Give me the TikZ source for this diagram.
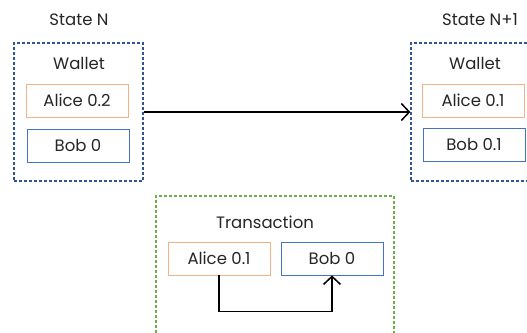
\documentclass[tikz,border=0pt]{standalone}
\usepackage{fontspec}
\setmainfont{Poppins}
\usetikzlibrary{arrows.meta}
\definecolor{dashblue}{HTML}{2F5597}
\definecolor{dashgreen}{HTML}{70AD47}
\definecolor{aliceline}{HTML}{F4B183}
\definecolor{bobline}{HTML}{4472C4}
\tikzset{
  statebox/.style={draw=dashblue, line width=1.3pt, dash pattern=on 3pt off 2pt, minimum width=129pt, minimum height=138pt},
  txbox/.style={draw=dashgreen, line width=1.3pt, dash pattern=on 3pt off 2pt, minimum width=238pt, minimum height=150pt},
  account/.style={draw, line width=0.8pt, minimum width=102pt, minimum height=33pt, inner sep=0pt},
  label/.style={inner sep=0pt},
  flow/.style={line width=1.5pt, -{Straight Barb[length=8pt,width=17pt,line width=1.5pt]}}
}
\begin{document}
\begin{tikzpicture}[x=1pt, y=-1pt, font=\fontsize{16.5}{19}\selectfont, text=black!85]
    \clip (0,0) rectangle (527,332);
    \fill[white] (0,0) rectangle (527,332);
    % state N
    \node[label] (titleN) at (79,20) {State N};
    \node[statebox] (stateN) at (78.5,112) {};
    \node[label] (walletN) at (79,63) {Wallet};
    \node[account, draw=aliceline] (aliceN) at (77,100.5) {Alice 0.2};
    \node[account, draw=bobline] (bobN) at (78,145.5) {Bob 0};
    % state N+1
    \node[label] (titleM) at (480,20) {State N+1};
    \node[statebox] (stateM) at (475.5,112) {};
    \node[label] (walletM) at (475,63) {Wallet};
    \node[account, draw=aliceline] (aliceM) at (473,100.5) {Alice 0.1};
    \node[account, draw=bobline] (bobM) at (474,144.5) {Bob 0.1};
    \draw[flow] (stateN.east) -- (stateM.west);
    % transaction
    \node[txbox] (tx) at (275,271) {};
    \node[label] (txtitle) at (265,222) {Transaction};
    \node[account, draw=aliceline] (aliceT) at (219,258.5) {Alice 0.1};
    \node[account, draw=bobline] (bobT) at (332,258.5) {Bob 0};
    \draw[flow] (aliceT.south) -- ++(0,36) -| (bobT.south);
  \end{tikzpicture}
\end{document}
